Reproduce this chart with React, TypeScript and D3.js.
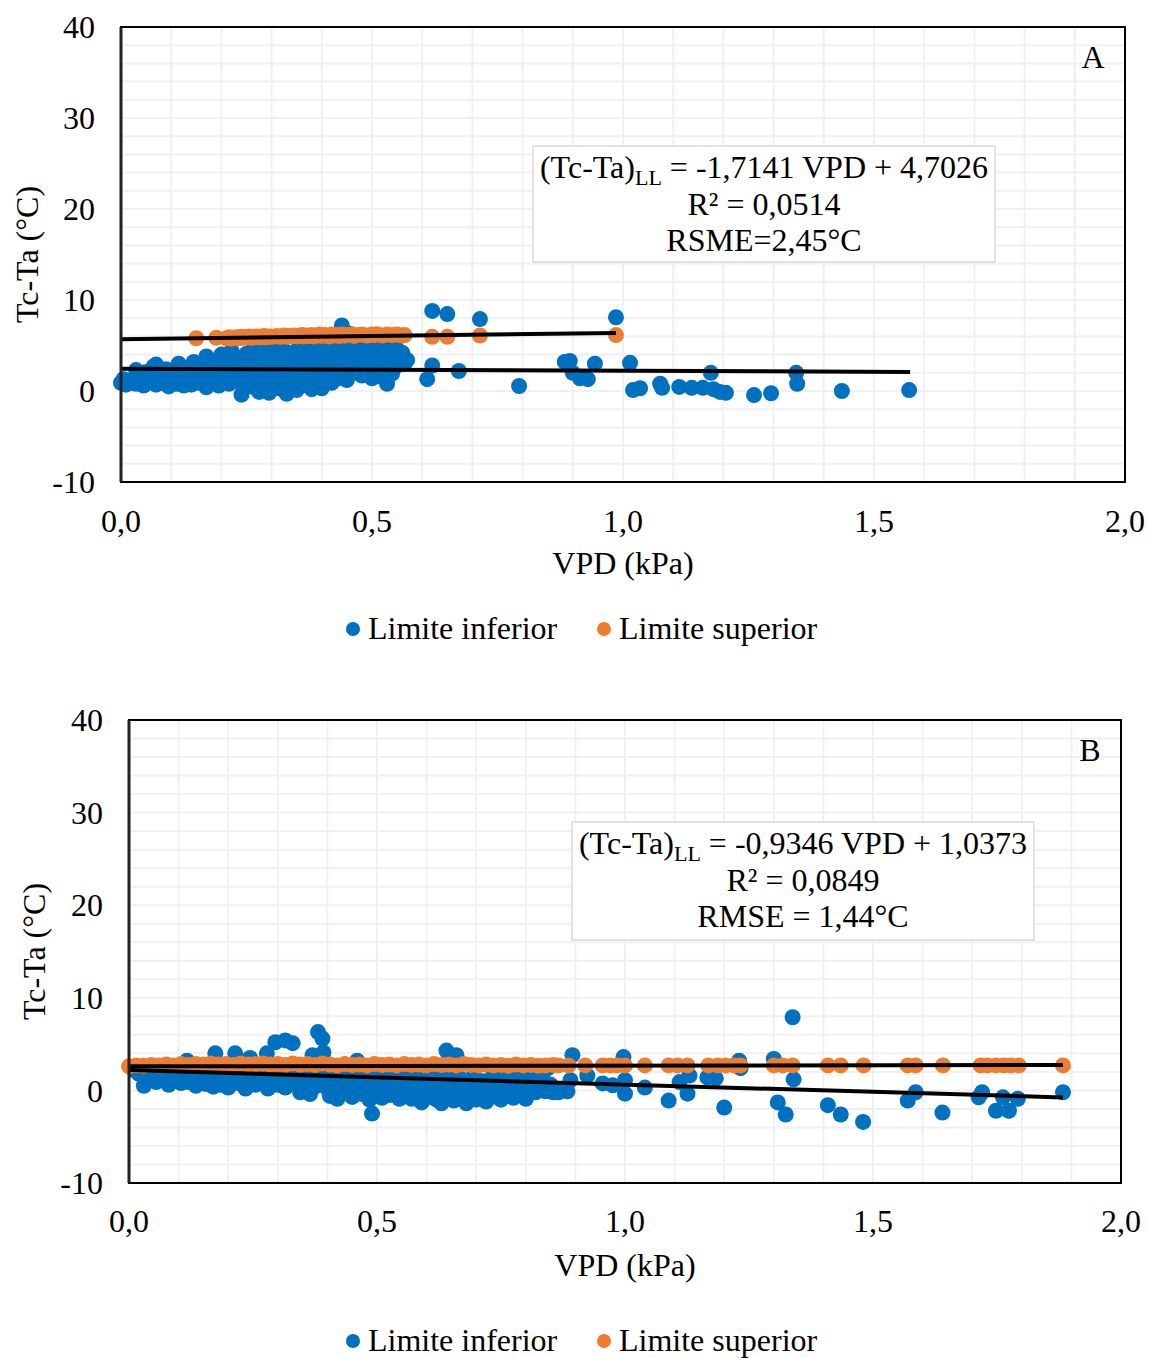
import React from "react";
import * as d3 from "d3";

// ---------- DATA ----------
const xTicks = [0, 0.5, 1.0, 1.5, 2.0];
const xTickLabels = ["0,0", "0,5", "1,0", "1,5", "2,0"];
const yTicks = [40, 30, 20, 10, 0, -10];
const yTickLabels = ["40", "30", "20", "10", "0", "-10"];
const seriesNames = ["Limite inferior", "Limite superior"];

// Panel A - Limite inferior
const aInferior: [number, number][] = [
  [0.0, 0.9], [0.005, 1.3], [0.01, 0.7], [0.02, 1.1], [0.03, 2.3], [0.03, 0.8], [0.04, 1.6], [0.045, 0.6],
  [0.05, 2.1], [0.05, 1.0], [0.06, 1.4], [0.065, 2.7], [0.07, 0.7], [0.07, 2.9], [0.08, 1.8], [0.085, 0.9],
  [0.09, 2.4], [0.095, 0.5], [0.1, 1.3], [0.105, 2.0], [0.11, 0.8], [0.115, 3.0], [0.12, 1.6], [0.125, 0.6],
  [0.13, 2.4], [0.135, 1.1], [0.14, 0.7], [0.145, 3.2], [0.15, 1.9], [0.155, 0.9], [0.16, 2.6], [0.165, 1.3],
  [0.17, 3.8], [0.17, 0.4], [0.175, 2.1], [0.18, 1.0], [0.185, 3.3], [0.19, 1.7], [0.195, 0.6], [0.2, 4.0],
  [0.2, 2.4], [0.205, 1.2], [0.21, 3.0], [0.215, 0.8], [0.22, 4.4], [0.22, 1.8], [0.225, 2.7], [0.23, 1.1],
  [0.235, 3.6], [0.24, -0.4], [0.24, 2.2], [0.245, 0.9], [0.25, 4.1], [0.25, 1.5], [0.255, 3.1], [0.26, 0.5],
  [0.26, 2.6], [0.265, 4.7], [0.27, 1.2], [0.27, 3.5], [0.275, -0.1], [0.28, 2.0], [0.28, 4.3], [0.285, 0.8],
  [0.29, 3.0], [0.29, 1.6], [0.295, -0.2], [0.3, 4.6], [0.3, 2.4], [0.305, 0.9], [0.31, 3.7], [0.31, 1.4],
  [0.315, 0.3], [0.32, 2.8], [0.32, 4.9], [0.325, 1.9], [0.33, -0.3], [0.33, 3.3], [0.335, 0.7], [0.34, 4.2],
  [0.34, 2.2], [0.345, 1.2], [0.35, 3.6], [0.35, 0.1], [0.355, 5.0], [0.36, 2.7], [0.36, 1.6], [0.365, 4.0],
  [0.37, 0.6], [0.37, 3.1], [0.375, 5.4], [0.38, 2.0], [0.38, 0.2], [0.385, 4.5], [0.39, 3.4], [0.39, 1.1],
  [0.395, 5.8], [0.4, 2.5], [0.4, 0.3], [0.405, 4.1], [0.41, 1.8], [0.41, 5.2], [0.415, 3.0], [0.42, 0.9],
  [0.42, 4.6], [0.425, 2.3], [0.43, 5.6], [0.43, 3.6], [0.435, 1.4], [0.44, 7.2], [0.44, 4.0], [0.445, 2.6],
  [0.45, 5.1], [0.45, 1.2], [0.455, 6.3], [0.46, 3.3], [0.46, 4.7], [0.465, 2.0], [0.47, 5.5], [0.47, 3.8],
  [0.475, 2.9], [0.48, 4.4], [0.48, 1.7], [0.485, 5.9], [0.49, 3.2], [0.49, 2.4], [0.495, 4.9], [0.5, 3.7],
  [0.5, 1.4], [0.505, 5.3], [0.51, 2.7], [0.51, 4.3], [0.515, 1.6], [0.52, 3.5], [0.52, 5.0], [0.525, 2.2],
  [0.53, 0.8], [0.53, 4.1], [0.535, 3.0], [0.54, 5.4], [0.54, 1.9], [0.545, 3.7], [0.55, 4.6], [0.55, 2.8],
  [0.555, 3.3], [0.56, 4.2], [0.565, 3.0], [0.57, 3.4],
  [0.61, 1.3], [0.62, 2.8], [0.62, 8.8], [0.65, 8.45], [0.673, 2.2], [0.715, 7.9], [0.793, 0.55],
  [0.884, 3.2], [0.894, 3.3], [0.9, 2.0], [0.914, 1.4], [0.93, 1.3], [0.944, 3.0], [0.986, 8.1],
  [1.014, 3.1], [1.02, 0.1], [1.034, 0.3], [1.074, 0.8], [1.078, 0.35], [1.112, 0.45], [1.137, 0.35],
  [1.159, 0.35], [1.175, 2.0], [1.18, 0.2], [1.193, -0.1], [1.205, -0.2], [1.261, -0.45], [1.295, -0.25],
  [1.345, 2.0], [1.347, 0.8], [1.436, 0.0], [1.57, 0.1],
];

// Panel A - Limite superior
const aSuperior: [number, number][] = [
  [0.15, 5.8], [0.19, 5.85], [0.21, 5.8], [0.215, 5.9], [0.22, 5.75], [0.225, 5.85], [0.23, 5.9], [0.235, 5.8],
  [0.24, 5.95], [0.245, 5.85], [0.25, 5.9], [0.255, 6.0], [0.26, 5.85], [0.265, 5.95], [0.27, 6.0], [0.275, 5.9],
  [0.28, 5.95], [0.285, 6.05], [0.29, 5.9], [0.295, 6.0], [0.3, 5.95], [0.31, 6.05], [0.315, 5.95], [0.32, 6.0],
  [0.325, 6.1], [0.33, 5.95], [0.335, 6.05], [0.34, 6.0], [0.345, 6.1], [0.35, 6.0], [0.355, 6.05], [0.36, 6.15],
  [0.365, 6.0], [0.37, 6.1], [0.375, 6.05], [0.38, 6.15], [0.385, 6.0], [0.39, 6.1], [0.395, 6.2], [0.4, 6.05],
  [0.405, 6.15], [0.41, 6.1], [0.415, 6.0], [0.42, 6.2], [0.425, 6.1], [0.43, 6.15], [0.435, 6.05], [0.44, 6.2],
  [0.445, 6.1], [0.45, 6.15], [0.46, 6.2], [0.465, 6.05], [0.47, 6.15], [0.48, 6.2], [0.49, 6.1], [0.5, 6.2],
  [0.505, 6.15], [0.51, 6.25], [0.52, 6.1], [0.53, 6.2], [0.54, 6.15], [0.55, 6.2], [0.56, 6.1], [0.565, 6.15],
  [0.62, 5.95], [0.65, 5.95], [0.715, 6.1], [0.986, 6.15],
];

// Panel B - Limite inferior
const bInferior: [number, number][] = [
  [0.01, 2.2], [0.02, 1.8], [0.03, 0.5], [0.04, 1.2], [0.05, 2.0], [0.055, 0.9], [0.06, 1.5], [0.07, 2.3],
  [0.075, 1.0], [0.08, 0.6], [0.09, 1.7], [0.095, 1.2], [0.1, 2.1], [0.105, 0.8],
  [0.11, 1.4], [0.117, 3.2], [0.12, 0.9], [0.13, 1.9], [0.135, 0.5], [0.14, 1.3], [0.15, 2.2], [0.155, 0.7],
  [0.16, 1.6], [0.165, 1.0], [0.17, 0.4], [0.174, 4.0], [0.18, 1.8], [0.185, 0.6], [0.19, 1.2], [0.195, 2.4], [0.2, 0.3],
  [0.205, 1.5], [0.214, 4.0], [0.22, 0.8], [0.225, 2.0], [0.23, 1.1], [0.235, 0.2], [0.244, 3.5], [0.25, 1.4],
  [0.255, 0.6], [0.26, 2.2], [0.265, 0.9], [0.27, 1.6], [0.278, 4.0], [0.28, 0.2], [0.285, 1.2], [0.29, 2.5],
  [0.295, 5.2], [0.3, 0.6], [0.3, 1.8],
  [0.305, 1.0], [0.315, 5.4], [0.315, 0.3], [0.32, 1.5], [0.325, 2.3], [0.33, 5.1], [0.33, 0.8], [0.34, 1.3],
  [0.345, -0.2], [0.35, 2.0], [0.355, 0.6], [0.36, 1.1], [0.365, -0.4], [0.37, 3.8], [0.37, 1.7], [0.375, 0.4],
  [0.381, 6.3], [0.385, 1.0], [0.39, 5.6], [0.392, 4.1], [0.395, 2.2], [0.4, 0.2], [0.4, 1.5],
  [0.405, -0.6], [0.41, 0.9], [0.415, 1.8], [0.42, -0.9], [0.425, 0.4], [0.43, 1.3], [0.435, -0.3], [0.44, 2.1],
  [0.445, 0.7], [0.45, -0.7], [0.455, 1.2], [0.46, 3.2], [0.46, 0.1], [0.465, 1.6], [0.47, -0.4], [0.475, 0.8],
  [0.48, 1.9], [0.485, -1.0], [0.49, -2.5], [0.49, 0.5], [0.495, 1.4], [0.5, -0.2],
  [0.505, 0.9], [0.51, -0.8], [0.515, 1.7], [0.52, 0.3], [0.525, -0.5], [0.53, 1.2], [0.535, 0.0], [0.54, 2.0],
  [0.545, -0.9], [0.55, 0.6], [0.555, 1.4], [0.56, -0.3], [0.565, 0.9], [0.57, -0.9], [0.575, 1.8], [0.58, 0.2],
  [0.585, -0.6], [0.59, -1.3], [0.595, 1.1], [0.6, 0.4],
  [0.605, -0.7], [0.61, 1.5], [0.615, 0.0], [0.62, -1.0], [0.625, 0.8], [0.63, -1.4], [0.635, 2.1], [0.64, 4.3],
  [0.64, -0.4], [0.645, 0.6], [0.65, 1.7], [0.655, -1.1], [0.66, 3.8], [0.66, 0.2], [0.665, -0.6], [0.67, 1.2],
  [0.675, -0.9], [0.68, -1.4], [0.685, 0.5], [0.69, -0.2], [0.695, 1.6], [0.7, -1.0],
  [0.705, 0.3], [0.71, -0.5], [0.715, 1.0], [0.72, -1.2], [0.725, 0.1], [0.73, -0.7], [0.735, 1.9], [0.74, -0.3],
  [0.745, 0.7], [0.75, -1.0], [0.755, 2.2], [0.76, -0.4], [0.765, 0.5], [0.77, 1.4], [0.775, -0.8], [0.78, 0.0],
  [0.785, -0.5], [0.79, 1.8], [0.795, 0.3], [0.8, -0.9], [0.805, 1.6], [0.81, 0.1], [0.815, 2.0], [0.82, -0.2],
  [0.825, 0.8], [0.83, 2.3], [0.835, 1.2], [0.84, -0.1], [0.845, 2.4], [0.85, 0.6], [0.855, -0.2],
  [0.866, -0.2], [0.884, -0.1], [0.89, 1.1], [0.894, 3.8], [0.924, 1.6], [0.955, 0.75], [0.975, 0.55],
  [0.997, 3.6], [1.0, 1.1], [1.0, -0.35], [1.04, 0.3], [1.088, -1.1], [1.11, 0.9], [1.126, -0.35], [1.13, 1.6],
  [1.166, 1.4], [1.183, 1.3], [1.2, -1.85], [1.23, 3.2], [1.233, 2.4], [1.3, 3.4], [1.308, -1.3], [1.324, -2.6],
  [1.338, 7.9], [1.34, 1.2], [1.409, -1.6], [1.435, -2.6], [1.48, -3.4], [1.57, -1.1], [1.586, -0.2],
  [1.64, -2.4], [1.713, -0.75], [1.72, -0.2], [1.748, -2.2], [1.762, -0.75], [1.774, -2.2], [1.792, -0.9],
  [1.883, -0.2],
];

// Panel B - Limite superior
const bSuperior: [number, number][] = [
  [0.0, 2.6], [0.015, 2.7], [0.03, 2.65], [0.045, 2.75], [0.06, 2.7], [0.075, 2.8], [0.09, 2.7], [0.105, 2.85],
  [0.12, 2.75], [0.135, 2.85], [0.15, 2.8], [0.165, 2.9], [0.18, 2.8], [0.195, 2.85], [0.21, 2.75], [0.225, 2.9],
  [0.24, 2.8], [0.255, 2.85], [0.27, 2.9], [0.285, 2.8], [0.3, 2.85], [0.315, 2.75], [0.33, 2.9], [0.345, 2.8],
  [0.36, 2.85], [0.375, 2.75], [0.39, 2.9], [0.405, 2.8], [0.42, 2.7], [0.435, 2.85], [0.45, 2.75], [0.465, 2.8],
  [0.48, 2.7], [0.495, 2.85], [0.51, 2.75], [0.525, 2.8], [0.54, 2.7], [0.555, 2.85], [0.57, 2.75], [0.585, 2.8],
  [0.6, 2.7], [0.615, 2.85], [0.63, 2.75], [0.645, 2.8], [0.66, 2.7], [0.675, 2.85], [0.69, 2.75], [0.705, 2.7],
  [0.72, 2.8], [0.735, 2.7], [0.75, 2.75], [0.765, 2.65], [0.78, 2.8], [0.795, 2.7], [0.81, 2.75], [0.825, 2.65],
  [0.84, 2.7], [0.855, 2.75],
  [0.866, 2.7], [0.886, 2.7], [0.92, 2.7], [0.955, 2.7], [0.97, 2.7], [0.985, 2.7], [1.0, 2.7], [1.04, 2.7],
  [1.088, 2.7], [1.106, 2.7], [1.126, 2.7], [1.168, 2.7], [1.187, 2.7], [1.203, 2.7], [1.22, 2.7], [1.233, 2.7],
  [1.3, 2.7], [1.318, 2.7], [1.338, 2.7], [1.409, 2.7], [1.435, 2.7], [1.481, 2.7], [1.57, 2.7], [1.586, 2.7],
  [1.641, 2.7], [1.717, 2.7], [1.731, 2.7], [1.748, 2.7], [1.764, 2.7], [1.778, 2.7], [1.794, 2.7], [1.883, 2.7],
];

// Trend lines (endpoints as drawn)
const aTrendInferior: [number, number][] = [[0, 2.45], [1.572, 2.1]];
const aTrendSuperior: [number, number][] = [[0, 5.7], [0.986, 6.37]];
const bTrendInferior: [number, number][] = [[0, 2.2], [1.883, -0.76]];
const bTrendSuperior: [number, number][] = [[0, 2.6], [1.883, 2.75]];

const aEquation = [" = -1,7141 VPD + 4,7026", "R² = 0,0514", "RSME=2,45°C"];
const bEquation = [" = -0,9346 VPD + 1,0373", "R² = 0,0849", "RMSE = 1,44°C"];

// ---------- STYLE ----------
const BLUE = "#0070C0";
const ORANGE = "#ED7D31";
const FONT = "'Liberation Serif', 'Times New Roman', serif";
const FS = 32;

type PanelProps = {
  left: number; right: number; top: number; bottom: number;
  inf: [number, number][]; sup: [number, number][];
  tInf: [number, number][]; tSup: [number, number][];
  eq: string[]; letter: string;
  box: { x: number; y: number; w: number; h: number };
  yTitleX: number; xTickY: number; xTitleY: number; legendY: number; yLabelRight: number;
  letterX: number;
};

function Panel(p: PanelProps) {
  const x = d3.scaleLinear().domain([0, 2]).range([p.left, p.right]);
  const y = d3.scaleLinear().domain([-10, 40]).range([p.bottom, p.top]);
  const gx = d3.range(0, 21).map((i) => i / 10);
  const gy = d3.range(-10, 41, 2);
  const line = d3.line<[number, number]>().x((d) => x(d[0])).y((d) => y(d[1]));
  const cx = p.box.x + p.box.w / 2;
  const r = 8;
  const midY = (p.top + p.bottom) / 2;
  return (
    <g fontFamily={FONT} fill="#000">
      {gx.map((v, i) => (
        <line key={"gx" + i} x1={x(v)} x2={x(v)} y1={p.top} y2={p.bottom} stroke="#f0f0f0" strokeWidth={2} />
      ))}
      {gy.map((v, i) => (
        <line key={"gy" + i} x1={p.left} x2={p.right} y1={y(v)} y2={y(v)} stroke="#f0f0f0" strokeWidth={2} />
      ))}
      <rect x={p.box.x} y={p.box.y} width={p.box.w} height={p.box.h} fill="#fff" stroke="#d9d9d9" strokeWidth={1.5} />
      {p.inf.map((d, i) => (
        <circle key={"i" + i} cx={x(d[0])} cy={y(d[1])} r={r} fill={BLUE} />
      ))}
      {p.sup.map((d, i) => (
        <circle key={"s" + i} cx={x(d[0])} cy={y(d[1])} r={r} fill={ORANGE} />
      ))}
      <path d={line(p.tInf) || ""} stroke="#000" strokeWidth={4} fill="none" />
      <path d={line(p.tSup) || ""} stroke="#000" strokeWidth={4} fill="none" />
      <rect x={p.left} y={p.top} width={p.right - p.left} height={p.bottom - p.top} fill="none" stroke="#000" strokeWidth={2} />
      <line x1={p.left} x2={p.left} y1={p.top} y2={p.bottom} stroke="#222" strokeWidth={3} />
      {yTicks.map((v, i) => (
        <text key={"yt" + i} x={p.yLabelRight} y={y(v)} dy="0.35em" textAnchor="end" fontSize={FS}>
          {yTickLabels[i]}
        </text>
      ))}
      {xTicks.map((v, i) => (
        <text key={"xt" + i} x={x(v)} y={p.xTickY} textAnchor="middle" fontSize={FS}>
          {xTickLabels[i]}
        </text>
      ))}
      <text x={(p.left + p.right) / 2} y={p.xTitleY} textAnchor="middle" fontSize={FS}>VPD (kPa)</text>
      <text transform={`translate(${p.yTitleX},${midY}) rotate(-90)`} textAnchor="middle" fontSize={FS}>Tc-Ta (°C)</text>
      <text x={p.letterX} y={p.top + 41} textAnchor="middle" fontSize={FS}>{p.letter}</text>
      <text x={cx} y={p.box.y + 32} textAnchor="middle" fontSize={FS}>
        (Tc-Ta)<tspan fontSize={22} dy={7}>LL</tspan><tspan dy={-7}>{p.eq[0]}</tspan>
      </text>
      <text x={cx} y={p.box.y + 69} textAnchor="middle" fontSize={FS}>{p.eq[1]}</text>
      <text x={cx} y={p.box.y + 105} textAnchor="middle" fontSize={FS}>{p.eq[2]}</text>
      <circle cx={353} cy={p.legendY - 10} r={7} fill={BLUE} />
      <text x={368} y={p.legendY} fontSize={FS}>{seriesNames[0]}</text>
      <circle cx={604} cy={p.legendY - 10} r={7} fill={ORANGE} />
      <text x={619} y={p.legendY} fontSize={FS}>{seriesNames[1]}</text>
    </g>
  );
}

export default function App() {
  return (
    <svg width={1149} height={1358} style={{ position: "absolute", left: 0, top: 0, background: "#fff" }}>
      <rect x={0} y={0} width={1149} height={1358} fill="#fff" />
      <Panel
        left={121} right={1125} top={27} bottom={482}
        inf={aInferior} sup={aSuperior} tInf={aTrendInferior} tSup={aTrendSuperior}
        eq={aEquation} letter="A"
        box={{ x: 533, y: 146, w: 462, h: 116 }}
        yTitleX={38} xTickY={532} xTitleY={574} legendY={639} yLabelRight={95} letterX={1093}
      />
      <Panel
        left={129} right={1121} top={720} bottom={1183}
        inf={bInferior} sup={bSuperior} tInf={bTrendInferior} tSup={bTrendSuperior}
        eq={bEquation} letter="B"
        box={{ x: 572, y: 822, w: 462, h: 118 }}
        yTitleX={45} xTickY={1232} xTitleY={1276} legendY={1351} yLabelRight={103} letterX={1090}
      />
    </svg>
  );
}
